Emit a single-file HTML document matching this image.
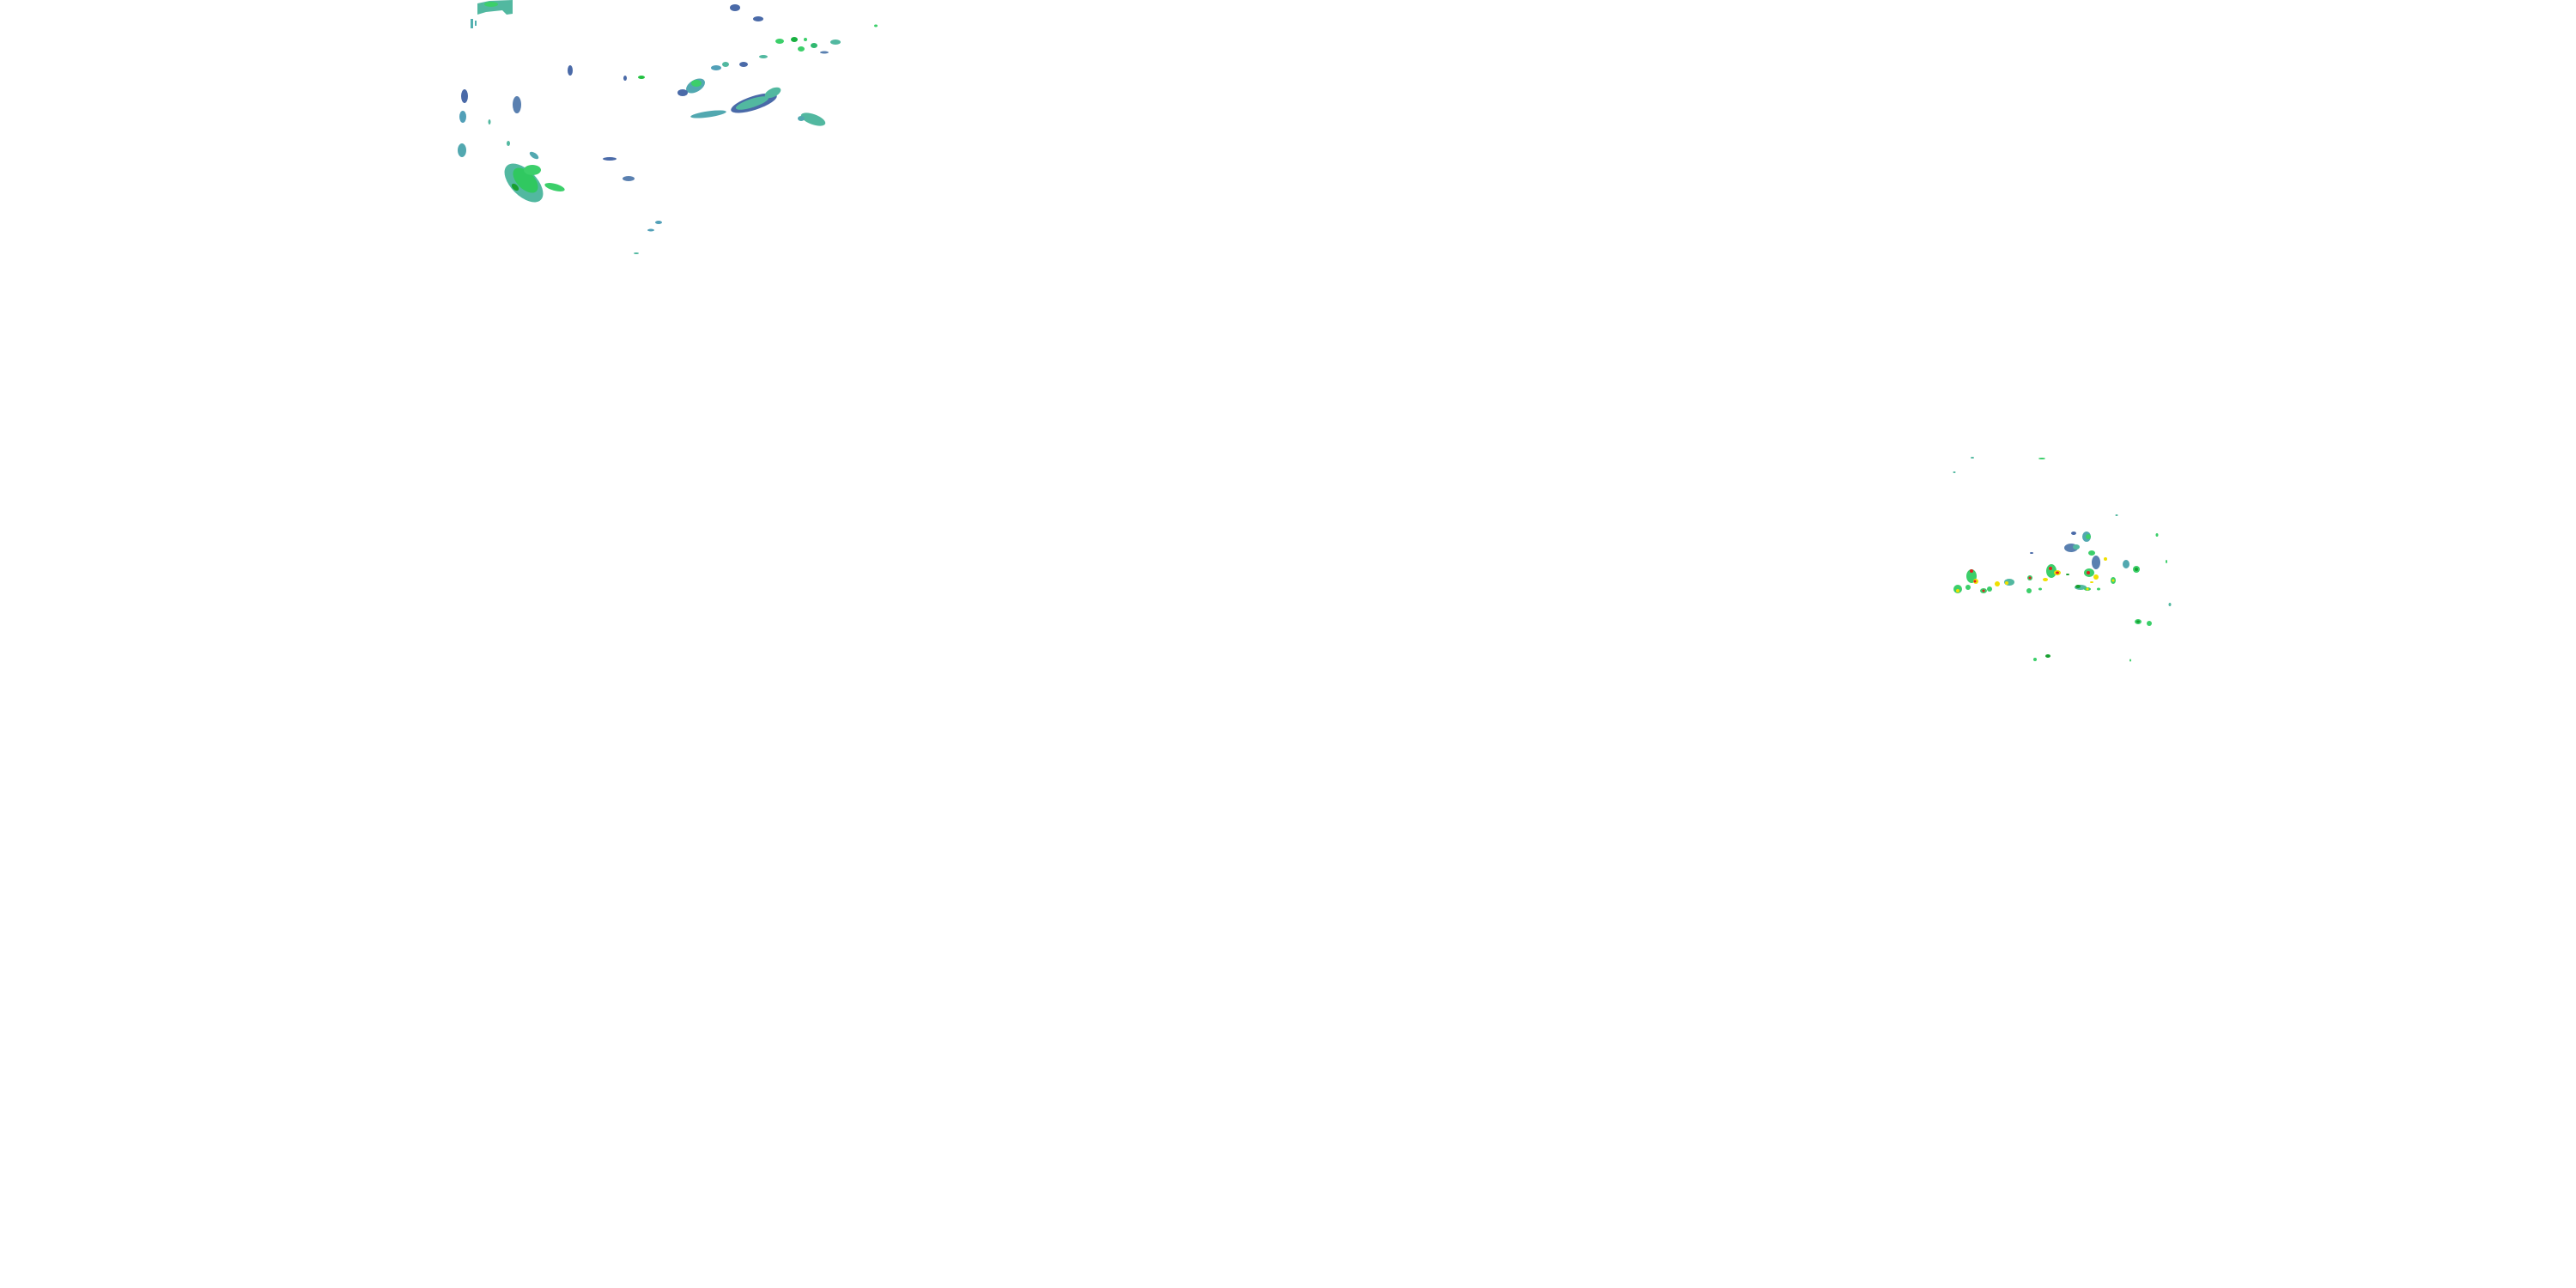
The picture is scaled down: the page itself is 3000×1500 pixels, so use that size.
<!DOCTYPE html>
<html><head><meta charset="utf-8"><style>html,body{margin:0;padding:0;background:#fff;width:3000px;height:1500px;overflow:hidden}</style></head>
<body>
<svg width="3000" height="1500" xmlns="http://www.w3.org/2000/svg">
<rect width="3000" height="1500" fill="#fff"/>
<g>
<!-- top-left cluster -->
<path d="M556 4 L570 1 L597 0 L597 16 L590 17 L585 12 L566 14 L556 17 Z" fill="#52b8a0"/>
<ellipse cx="572" cy="5" rx="8" ry="3" fill="#3ccf6a"/>
<rect x="548" y="22" width="3" height="11" fill="#52b0b0"/>
<rect x="553" y="24" width="2" height="6" fill="#52b0b0"/>
<ellipse cx="664" cy="82" rx="3" ry="6" fill="#4a6aa8"/>
<ellipse cx="728" cy="91" rx="2" ry="3" fill="#4a6aa8"/>
<ellipse cx="747" cy="90" rx="4" ry="2" fill="#22c040"/>
<ellipse cx="541" cy="112" rx="4" ry="8" fill="#4a6aa8"/>
<ellipse cx="602" cy="122" rx="5" ry="10" fill="#5a80b0"/>
<ellipse cx="539" cy="136" rx="4" ry="7" fill="#52a0b8"/>
<ellipse cx="538" cy="175" rx="5" ry="8" fill="#52a8b0"/>
<ellipse cx="570" cy="142" rx="1.5" ry="3" fill="#52b8a0"/>
<ellipse cx="592" cy="167" rx="2" ry="3" fill="#52b8a0"/>
<ellipse cx="622" cy="181" rx="6" ry="3" transform="rotate(35 622 181)" fill="#52a8b0"/>
<ellipse cx="610" cy="213" rx="28" ry="15" transform="rotate(45 610 213)" fill="#52b8a0"/>
<ellipse cx="612" cy="210" rx="18" ry="10" transform="rotate(45 612 210)" fill="#30c860"/>
<ellipse cx="620" cy="198" rx="10" ry="6" fill="#3ccf6a"/>
<ellipse cx="600" cy="218" rx="5" ry="3" transform="rotate(45 600 218)" fill="#18a030"/>
<ellipse cx="646" cy="218" rx="12" ry="4" transform="rotate(15 646 218)" fill="#3ccf6a"/>
<ellipse cx="710" cy="185" rx="8" ry="2" fill="#4a6aa8"/>
<ellipse cx="732" cy="208" rx="7" ry="3" fill="#5a80b0"/>
<ellipse cx="767" cy="259" rx="4" ry="2" fill="#52a0b8"/>
<ellipse cx="758" cy="268" rx="4" ry="1.5" fill="#52a0b8"/>
<ellipse cx="741" cy="295" rx="3" ry="1" fill="#52b8a0"/>
<ellipse cx="856" cy="9" rx="6" ry="4" fill="#4a6aa8"/>
<ellipse cx="883" cy="22" rx="6" ry="3" fill="#4a6aa8"/>
<ellipse cx="908" cy="48" rx="5" ry="3" fill="#3ccf6a"/>
<ellipse cx="925" cy="46" rx="4" ry="3" fill="#18b040"/>
<ellipse cx="933" cy="57" rx="4" ry="3" fill="#3ccf6a"/>
<ellipse cx="948" cy="53" rx="4" ry="3" fill="#30b870"/>
<ellipse cx="973" cy="49" rx="6" ry="3" fill="#52b8a0"/>
<ellipse cx="960" cy="61" rx="5" ry="1.5" fill="#5a80b0"/>
<ellipse cx="938" cy="46" rx="2" ry="2" fill="#3ccf6a"/>
<ellipse cx="889" cy="66" rx="5" ry="2" fill="#52b8a0"/>
<ellipse cx="1020" cy="30" rx="2" ry="1.5" fill="#3ccf6a"/>
<ellipse cx="810" cy="100" rx="12" ry="7" transform="rotate(-30 810 100)" fill="#52a8b0"/>
<ellipse cx="811" cy="97" rx="6" ry="4" fill="#3ccf6a"/>
<ellipse cx="795" cy="108" rx="6" ry="4" fill="#4a6aa8"/>
<ellipse cx="834" cy="79" rx="6" ry="3" fill="#52a0b8"/>
<ellipse cx="845" cy="75" rx="4" ry="3" fill="#52b8a0"/>
<ellipse cx="866" cy="75" rx="5" ry="3" fill="#4a6aa8"/>
<ellipse cx="825" cy="133" rx="21" ry="3.5" transform="rotate(-8 825 133)" fill="#52a8b0"/>
<ellipse cx="878" cy="120" rx="28" ry="8" transform="rotate(-18 878 120)" fill="#4a6aa8"/>
<ellipse cx="876" cy="120" rx="20" ry="5" transform="rotate(-18 876 120)" fill="#52b8a0"/>
<ellipse cx="900" cy="108" rx="10" ry="5" transform="rotate(-25 900 108)" fill="#52b8a0"/>
<ellipse cx="947" cy="139" rx="15" ry="6" transform="rotate(20 947 139)" fill="#52b8a0"/>
<ellipse cx="933" cy="138" rx="4" ry="3" fill="#52a8b0"/>
<!-- right cluster -->
<ellipse cx="2378" cy="534" rx="4" ry="1" fill="#3ccf6a"/>
<ellipse cx="2297" cy="533" rx="2" ry="1" fill="#52b8a0"/>
<ellipse cx="2276" cy="550" rx="1.5" ry="1" fill="#52b8a0"/>
<ellipse cx="2412" cy="638" rx="8" ry="5" fill="#5a80b0"/>
<ellipse cx="2418" cy="637" rx="4" ry="3" fill="#52b8a0"/>
<ellipse cx="2430" cy="625" rx="5" ry="6" fill="#52a8b0"/>
<ellipse cx="2432" cy="625" rx="3" ry="3" fill="#3ccf6a"/>
<ellipse cx="2415" cy="621" rx="3" ry="2" fill="#4a6aa8"/>
<ellipse cx="2441" cy="655" rx="5" ry="8" fill="#5a80b0"/>
<ellipse cx="2436" cy="644" rx="4" ry="3" fill="#3ccf6a"/>
<ellipse cx="2366" cy="644" rx="2" ry="1" fill="#4a6aa8"/>
<ellipse cx="2296" cy="671" rx="6" ry="8" fill="#3ccf6a"/>
<ellipse cx="2301" cy="677" rx="3" ry="3" fill="#f0e000"/>
<ellipse cx="2300" cy="677" rx="1.5" ry="1.5" fill="#e02020"/>
<ellipse cx="2296" cy="665" rx="2" ry="2" fill="#e02020"/>
<ellipse cx="2280" cy="686" rx="5" ry="5" fill="#3ccf6a"/>
<ellipse cx="2280" cy="688" rx="2" ry="2" fill="#f0e000"/>
<ellipse cx="2292" cy="684" rx="3" ry="3" fill="#3ccf6a"/>
<ellipse cx="2310" cy="688" rx="4" ry="3" fill="#3ccf6a"/>
<ellipse cx="2310" cy="688" rx="1.5" ry="1.5" fill="#e02020"/>
<ellipse cx="2317" cy="686" rx="3" ry="3" fill="#3ccf6a"/>
<ellipse cx="2326" cy="680" rx="3" ry="3" fill="#f0e000"/>
<ellipse cx="2340" cy="678" rx="6" ry="4" fill="#52b8a0"/>
<ellipse cx="2337" cy="679" rx="2" ry="2" fill="#f0e000"/>
<ellipse cx="2364" cy="673" rx="3" ry="3" fill="#3ccf6a"/>
<ellipse cx="2364" cy="673" rx="1.5" ry="1.5" fill="#e02020"/>
<ellipse cx="2363" cy="688" rx="3" ry="3" fill="#3ccf6a"/>
<ellipse cx="2376" cy="686" rx="2" ry="1.5" fill="#3ccf6a"/>
<ellipse cx="2389" cy="665" rx="6" ry="8" fill="#3ccf6a"/>
<ellipse cx="2388" cy="662" rx="2" ry="2" fill="#e02020"/>
<ellipse cx="2396" cy="667" rx="4" ry="3" fill="#f0e000"/>
<ellipse cx="2396" cy="667" rx="2" ry="1.5" fill="#e02020"/>
<ellipse cx="2382" cy="675" rx="3" ry="2" fill="#f0e000"/>
<ellipse cx="2408" cy="669" rx="2" ry="1" fill="#18a030"/>
<ellipse cx="2423" cy="684" rx="7" ry="3" fill="#52b8a0"/>
<ellipse cx="2420" cy="683" rx="3" ry="2" fill="#18a030"/>
<ellipse cx="2431" cy="686" rx="4" ry="2" fill="#3ccf6a"/>
<ellipse cx="2431" cy="686" rx="1.5" ry="1.5" fill="#f0e000"/>
<ellipse cx="2444" cy="686" rx="2" ry="1.5" fill="#3ccf6a"/>
<ellipse cx="2433" cy="667" rx="6" ry="5" fill="#3ccf6a"/>
<ellipse cx="2432" cy="667" rx="2" ry="2" fill="#e02020"/>
<ellipse cx="2441" cy="672" rx="3" ry="3" fill="#f0e000"/>
<ellipse cx="2436" cy="678" rx="2" ry="1" fill="#f0e000"/>
<ellipse cx="2461" cy="676" rx="3" ry="4" fill="#3ccf6a"/>
<ellipse cx="2461" cy="676" rx="1.5" ry="1.5" fill="#f0e000"/>
<ellipse cx="2476" cy="657" rx="4" ry="5" fill="#52a8b0"/>
<ellipse cx="2488" cy="663" rx="4" ry="4" fill="#3ccf6a"/>
<ellipse cx="2488" cy="663" rx="2" ry="2" fill="#18a030"/>
<ellipse cx="2452" cy="651" rx="2" ry="2" fill="#f0e000"/>
<ellipse cx="2490" cy="724" rx="4" ry="3" fill="#3ccf6a"/>
<ellipse cx="2490" cy="724" rx="2" ry="1.5" fill="#18a030"/>
<ellipse cx="2503" cy="726" rx="3" ry="3" fill="#3ccf6a"/>
<ellipse cx="2527" cy="704" rx="1.5" ry="2" fill="#52b8a0"/>
<ellipse cx="2512" cy="623" rx="1.5" ry="2" fill="#3ccf6a"/>
<ellipse cx="2523" cy="654" rx="1" ry="2" fill="#3ccf6a"/>
<ellipse cx="2465" cy="600" rx="1.5" ry="1" fill="#52b8a0"/>
<ellipse cx="2370" cy="768" rx="2" ry="2" fill="#3ccf6a"/>
<ellipse cx="2385" cy="764" rx="3" ry="2" fill="#18a030"/>
<ellipse cx="2481" cy="769" rx="1" ry="1.5" fill="#3ccf6a"/>
</g>
</svg>
</body></html>
